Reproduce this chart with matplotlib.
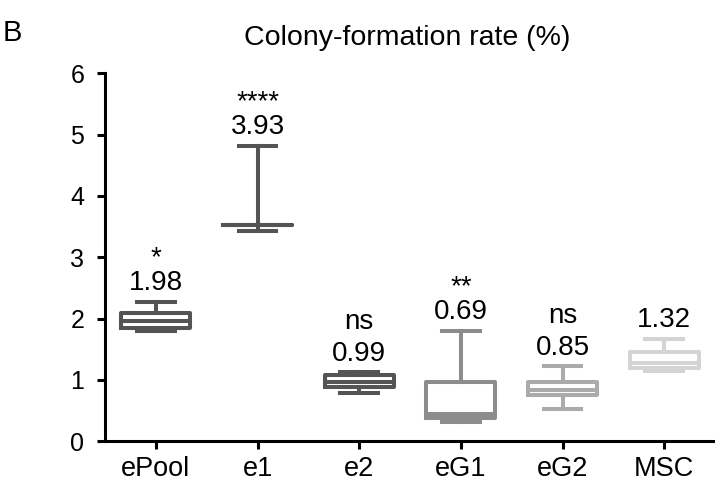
"""
Colony-formation rate box plots, panel B.
"""
import matplotlib.pyplot as plt

plt.rcParams["font.family"] = ["Liberation Sans", "DejaVu Sans"]

groups = ["ePool", "e1", "e2", "eG1", "eG2", "MSC"]
whisker_low = [1.80, 3.42, 0.79, 0.31, 0.53, 1.14]
q1 = [1.85, 3.52, 0.89, 0.37, 0.75, 1.20]
median = [1.96, 3.52, 0.97, 0.44, 0.84, 1.27]
q3 = [2.09, 3.53, 1.08, 0.96, 0.96, 1.45]
whisker_high = [2.27, 4.82, 1.12, 1.80, 1.22, 1.67]
mean = [1.98, 3.93, 0.99, 0.69, 0.85, 1.32]
signif = ["*", "****", "ns", "**", "ns", ""]
colors = ["#545454", "#545454", "#545454", "#8c8c8c", "#ababab", "#d4d4d4"]

stats = []
for i, g in enumerate(groups):
    stats.append({"label": g, "whislo": whisker_low[i], "q1": q1[i],
                  "med": median[i], "q3": q3[i], "whishi": whisker_high[i]})

fig = plt.figure(figsize=(7.15, 4.88), dpi=100)
ax = fig.add_axes([0.147, 0.096, 0.853, 0.754])

lw = 2.9
for i, s in enumerate(stats):
    c = colors[i]
    ax.bxp([s], positions=[i], widths=0.68, showfliers=False,
           boxprops=dict(color=c, linewidth=lw),
           medianprops=dict(color=c, linewidth=lw),
           whiskerprops=dict(color=c, linewidth=lw),
           capprops=dict(color=c, linewidth=lw),
           capwidths=0.37, manage_ticks=False)
    ax.annotate(f"{mean[i]:.2f}", (i, whisker_high[i]), xytext=(0, 4),
                textcoords="offset points", ha="center", va="bottom",
                fontsize=20)
    if signif[i] == "ns":
        ax.annotate("ns", (i, whisker_high[i]), xytext=(0, 27),
                    textcoords="offset points", ha="center", va="bottom",
                    fontsize=20)
    elif signif[i]:
        ax.annotate(signif[i], (i, whisker_high[i]), xytext=(0, 22),
                    textcoords="offset points", ha="center", va="bottom",
                    fontsize=20)

ax.set_xlim(-0.5, 5.5)
ax.set_ylim(0, 6)
ax.set_yticks(range(7))
ax.set_xticks(range(len(groups)))
ax.set_xticklabels(groups)
ax.tick_params(axis="y", labelsize=18, width=2.2, length=6, pad=9)
ax.tick_params(axis="x", labelsize=19.5, width=2.2, length=6, pad=5)
for side in ["top", "right"]:
    ax.spines[side].set_visible(False)
for side in ["left", "bottom"]:
    ax.spines[side].set_linewidth(2.2)

fig.text(0.570, 0.922, "Colony-formation rate (%)", ha="center", va="center",
         fontsize=20.5)
fig.text(0.004, 0.932, "B", ha="left", va="center", fontsize=21)

fig.savefig("out.png", dpi=100)
plt.close(fig)
